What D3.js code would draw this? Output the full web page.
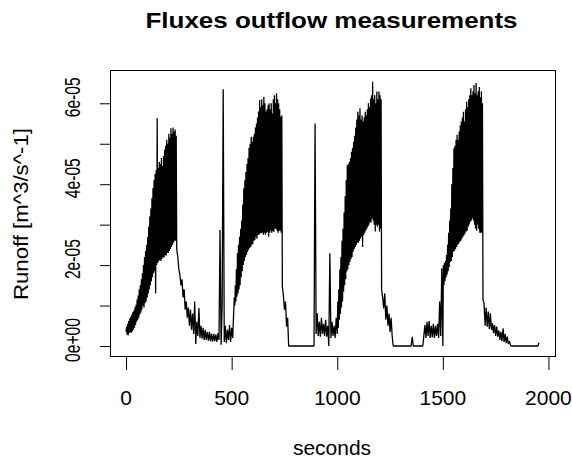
<!DOCTYPE html>
<html>
<head>
<meta charset="utf-8">
<script src="https://cdn.jsdelivr.net/npm/d3@7/dist/d3.min.js"></script>
<style>
  html, body { margin: 0; padding: 0; background: #ffffff; }
  svg { display: block; }
  text { font-family: "Liberation Sans", Arial, sans-serif; fill: #000; }
</style>
</head>
<body>
<svg id="chart" width="572" height="460"></svg>
<script>
// ---------------- data ----------------
const titleText = "Fluxes outflow measurements";
const xLabelText = "seconds";
const yLabelText = "Runoff [m^3/s^-1]";

// The record is stored as consecutive segments; each has a start time (s),
// a sampling interval (s) and runoff values in units of 1e-6 m^3/s.
const segmentStart = [0, 240, 510, 740, 1000, 1210, 1500, 1690];
const segmentStep  = [2.5, 5, 2.5, 5, 2.5, 5, 2.5, 5];

const rise1 = [   // t 0 - 237.5
  3.5, 4.8, 2.8, 5.5, 2.6, 6.2, 3.2, 6.8, 3.4, 7.2,
  3.3, 7.8, 3.6, 8.4, 4, 8.8, 4.5, 9.6, 5.2, 10.2,
  6, 11.5, 6.5, 12.5, 7, 14, 7.8, 15, 8.2, 16.5,
  9, 18, 10, 20, 9.5, 22, 10.6, 23.5, 11, 25,
  12, 27, 13, 29.5, 14, 32, 15, 34, 16, 36.5,
  17, 39, 18, 41, 18.5, 42.5, 13, 43.5, 20, 56.3,
  20.5, 44, 21, 45.5, 21.3, 45, 21, 46.5, 21.5, 44.5,
  22, 47, 21.8, 48.5, 22.5, 49.5, 22.3, 51, 23, 50,
  23, 52.5, 23.5, 51.5, 24, 53.8, 24.5, 52.5, 25, 54,
  25.5, 53, 26, 53.5, 26, 52
];
const fall1 = [   // t 240 - 505
  24, 22, 19, 17.5, 15, 16.5, 12, 14, 9, 11,
  7, 9.5, 5, 9, 4, 8, 3, 11, 0.5, 6,
  2.5, 9.4, 2, 5, 1.8, 4.5, 1.5, 4, 1.5, 3.5,
  1.3, 3.5, 1.2, 3, 1.1, 3, 1.2, 2.8, 1, 3.2,
  1.5, 28.7, 0.3, 10, 63.5, 1, 5, 0.7, 4, 1.5,
  5.2, 1, 4.5, 2
];
const rise2 = [   // t 510 - 737.5
  8.9, 12, 10, 15, 11, 19, 12.2, 23, 13, 25,
  14, 27, 15, 29, 17, 31, 18.5, 35, 20, 39,
  21, 41, 22, 43, 22.5, 45, 23.2, 46.5, 23.8, 49,
  24.3, 50, 24.5, 51.7, 25, 50.5, 25.2, 51.7, 26, 52.5,
  26.2, 54, 27, 55, 26.5, 56.5, 27.5, 58, 27.5, 60.8,
  27.9, 59, 27.9, 61, 28, 59.5, 27.5, 61.6, 28, 60,
  27.5, 58, 28, 58.5, 28.2, 59.5, 27, 60, 28, 58.5,
  28.5, 60, 28, 57.5, 28.5, 61, 28.2, 62, 29, 60,
  29, 62.5, 28.5, 61, 28, 60, 28.5, 58.5, 28.5, 56.7,
  28, 57
];
const fall2 = [   // t 740 - 995
  14.7, 12.5, 9, 11, 4.8, 7, 0,
  0, 0, 0, 0, 0, 0, 0, 0, 0, 0, 0, 0,
  0, 0, 0, 0, 0, 0, 0, 0, 0, 0, 0, 0,
  55,
  3, 8.1, 2.5, 6, 2.3, 7, 3, 5.5, 2.5, 6.5,
  2.3, 5, 0, 22.9, 1.9, 6, 2.5, 5, 2, 7
];
const rise3 = [   // t 1000 - 1207.5
  3, 11, 4.5, 14, 6.5, 19, 8, 22, 9.5, 26,
  11, 29, 13.4, 33, 15, 37, 16.5, 41, 18.4, 44.7,
  19, 45, 20, 45.5, 20.8, 46.4, 21.5, 48, 22, 49,
  23.3, 50.5, 24, 52, 24.5, 54, 25, 56, 25.5, 57.9,
  25.5, 57, 26, 58.8, 26.6, 56, 27, 57, 24.5, 55.5,
  27.4, 56.5, 28, 57.9, 28.5, 57, 29, 58.5, 29.5, 60,
  30, 59, 30.7, 61.2, 30.5, 62, 31.6, 65.3, 31, 61,
  30, 62, 28.3, 60, 30, 62.9, 29.5, 61, 30, 62.9,
  28.3, 62, 29, 61
];
const fall3 = [   // t 1210 - 1495
  14, 12, 9.3, 13, 6.5, 10, 5, 8, 3.5, 7, 2.5, 0,
  0, 0, 0, 0, 0, 0, 0, 0, 0, 0, 0, 0, 0, 0, 0, 0, 0,
  2.3,
  0, 0, 0, 0, 0, 0, 0, 0, 0, 0,
  2.5, 5.2, 2, 6, 2.5, 6.2, 2, 5, 2.2, 5.5,
  2, 5, 2.5, 5.5, 2, 11, 2.5, 19.2
];
const rise4 = [   // t 1500 - 1687.5
  0, 20, 15.1, 20.5, 16, 21, 17, 22.5, 17.6, 25,
  18.5, 28, 19.5, 31, 20.8, 34, 21, 40, 22, 44,
  23.3, 48.9, 23.5, 49.5, 24, 51, 24.5, 52.2, 25, 51,
  25.3, 53, 25.8, 54.6, 26, 55.5, 26.5, 56.5, 27, 57.9,
  27.4, 55.5, 27.8, 58.5, 28.3, 60.4, 28.5, 59, 29.5, 61,
  30, 62, 30.7, 63.7, 31, 62, 31.6, 63, 31, 64.5,
  30, 62.5, 29, 65, 28.5, 62, 30, 63, 29, 64,
  28, 61.5, 28, 63, 28, 60
];
const fall4 = [   // t 1690 - 1955
  11.4, 10.6, 5, 9.5, 4.8, 8.5, 4.2, 8.1, 4, 5.6,
  3.2, 5.2, 2.5, 4.8, 2.3, 3.8, 1.5, 3.5, 1.2, 4.4,
  1, 3, 0.7, 2.3, 0.5, 1.2, 0.2, 0,
  0, 0, 0, 0, 0, 0, 0, 0, 0, 0, 0, 0, 0,
  0, 0, 0, 0, 0, 0, 0, 0, 0, 0, 0, 0,
  0.8
];
const segmentValues = [rise1, fall1, rise2, fall2, rise3, fall3, rise4, fall4];

const xTickValues = [0, 500, 1000, 1500, 2000];
const xTickLabels = ["0", "500", "1000", "1500", "2000"];
const yTickValues = [0, 10, 20, 30, 40, 50, 60];          // 1e-6 units
const yTickLabels = ["0e+00", "", "2e-05", "", "4e-05", "", "6e-05"];

// ---------------- drawing ----------------
const svg = d3.select("#chart");
svg.append("rect").attr("width", 572).attr("height", 460).attr("fill", "#fff");

const plot = { left: 110, right: 555, top: 70, bottom: 356 };

const x = d3.scaleLinear().domain([-76, 2031]).range([plot.left, plot.right]);
const y = d3.scaleLinear().domain([-2.47, 68.23]).range([plot.bottom, plot.top]);

const series = [];
segmentValues.forEach((vals, s) => {
  vals.forEach((v, i) => series.push({ t: segmentStart[s] + i * segmentStep[s], v: v }));
});

const line = d3.line().x(d => x(d.t)).y(d => y(d.v));

svg.append("path")
  .datum(series)
  .attr("d", line)
  .attr("fill", "none")
  .attr("stroke", "#000")
  .attr("stroke-width", 1.3)
  .attr("stroke-linejoin", "bevel");

// box
svg.append("rect")
  .attr("x", plot.left + 0.5).attr("y", plot.top + 0.5)
  .attr("width", plot.right - plot.left).attr("height", plot.bottom - plot.top)
  .attr("fill", "none").attr("stroke", "#000").attr("stroke-width", 1);

// x axis ticks
const xAxis = d3.axisBottom(x).tickValues(xTickValues).tickSize(14).tickSizeOuter(0).tickFormat("");
const gx = svg.append("g").attr("transform", `translate(0,${plot.bottom})`).call(xAxis);
gx.select(".domain").remove();
gx.selectAll(".tick line").attr("stroke", "#000");

// y axis ticks
const yAxis = d3.axisLeft(y).tickValues(yTickValues).tickSize(10).tickSizeOuter(0).tickFormat("");
const gy = svg.append("g").attr("transform", `translate(${plot.left},0)`).call(yAxis);
gy.select(".domain").remove();
gy.selectAll(".tick line").attr("stroke", "#000");

// x tick labels
svg.append("g").selectAll("text")
  .data(xTickValues)
  .join("text")
  .attr("x", d => x(d))
  .attr("y", 405)
  .attr("text-anchor", "middle")
  .attr("font-size", 21)
  .text((d, i) => xTickLabels[i]);

// y tick labels (rotated, parallel to axis)
svg.append("g").selectAll("text")
  .data(yTickValues.map((v, i) => ({ v: v, label: yTickLabels[i] })).filter(d => d.label !== ""))
  .join("text")
  .attr("transform", d => `translate(80,${y(d.v) - 6}) rotate(-90)`)
  .attr("text-anchor", "middle")
  .attr("font-size", 22)
  .attr("textLength", d => d.label === "0e+00" ? 44 : 40)
  .attr("lengthAdjust", "spacingAndGlyphs")
  .text(d => d.label);

// title
svg.append("text")
  .attr("x", 331.5).attr("y", 28)
  .attr("text-anchor", "middle")
  .attr("font-size", 22)
  .attr("font-weight", "bold")
  .attr("textLength", 372)
  .attr("lengthAdjust", "spacingAndGlyphs")
  .text(titleText);

// x label
svg.append("text")
  .attr("x", 332).attr("y", 455)
  .attr("text-anchor", "middle")
  .attr("font-size", 21)
  .text(xLabelText);

// y label
svg.append("text")
  .attr("transform", "translate(28,214) rotate(-90)")
  .attr("text-anchor", "middle")
  .attr("font-size", 21)
  .attr("textLength", 172)
  .attr("lengthAdjust", "spacingAndGlyphs")
  .text(yLabelText);
</script>
</body>
</html>
